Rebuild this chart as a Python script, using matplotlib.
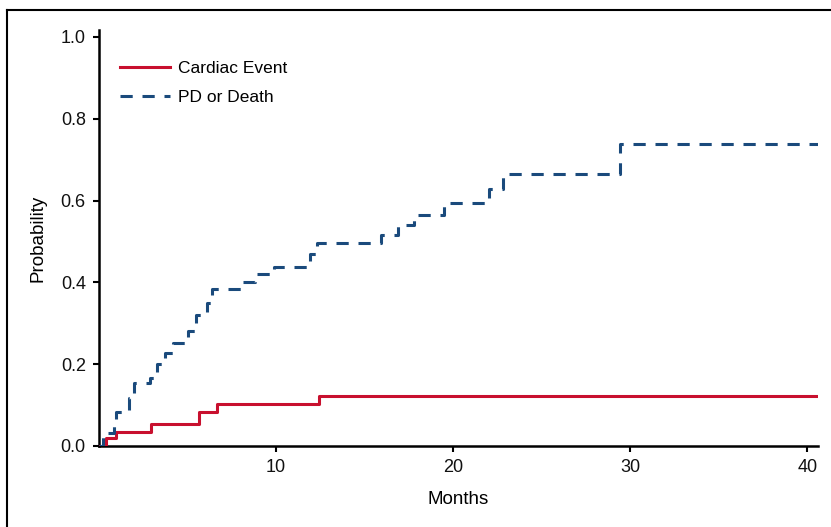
import matplotlib
matplotlib.use("Agg")
import matplotlib.pyplot as plt
from matplotlib.lines import Line2D

# cumulative incidence (months, probability)
cardiac_months = [0, 0.38, 0.96, 2.94, 5.67, 6.68, 12.43, 40.6]
cardiac_prob = [0.0, 0.020, 0.035, 0.053, 0.084, 0.102, 0.123, 0.123]

pd_months = [0, 0.2, 0.85, 0.95, 1.7, 2.0, 2.9, 3.3, 3.7, 4.2, 5.0, 5.45, 6.1, 6.4,
             8.0, 8.8, 9.9, 11.9, 12.3, 15.9, 16.9, 17.8, 19.5, 22.05, 22.8, 29.4, 40.6]
pd_prob = [0.0, 0.033, 0.05, 0.084, 0.118, 0.153, 0.166, 0.200, 0.228, 0.251, 0.282, 0.320, 0.350, 0.384,
           0.400, 0.420, 0.437, 0.470, 0.496, 0.516, 0.540, 0.565, 0.593, 0.628, 0.665, 0.738, 0.738]

x_ticks = [10, 20, 30, 40]
y_ticks = [0.0, 0.2, 0.4, 0.6, 0.8, 1.0]

RED = '#C8102E'
BLUE = '#1A4A7C'

plt.rcParams['font.family'] = ['Liberation Sans', 'DejaVu Sans']

figure = plt.figure(figsize=(8.31, 5.27), dpi=100)
axis = figure.add_axes([99 / 831, 81 / 527, 719 / 831, 416 / 527])

axis.step(cardiac_months, cardiac_prob, where='post', color=RED, linewidth=2.2,
          label='Cardiac Event', zorder=3)
axis.step(pd_months, pd_prob, where='post', color=BLUE, linewidth=2.2,
          dashes=(4, 3.2), label='PD or Death', zorder=3)

axis.set_xlim(0, 40.6)
axis.set_ylim(0, 1.017)
axis.set_xticks(x_ticks)
axis.set_yticks(y_ticks)
axis.set_yticklabels([f'{v:.1f}' for v in y_ticks])

for side in ('top', 'right'):
    axis.spines[side].set_visible(False)
for side in ('left', 'bottom'):
    axis.spines[side].set_linewidth(1.8)
    axis.spines[side].set_color('black')

axis.tick_params(direction='out', length=4.5, width=1.5, labelsize=13, pad=5,
                 colors='black', labelcolor='#111111')

axis.set_xlabel('Months', fontsize=13.5, labelpad=11)
axis.set_ylabel('Probability', fontsize=13.5, labelpad=10)

axis.legend(loc='upper left', bbox_to_anchor=(21 / 719, 0.925), frameon=False,
            fontsize=12.5, handlelength=2.9, handletextpad=0.45, labelspacing=0.8,
            borderaxespad=0, borderpad=0)

# outer frame, cut off at the right and bottom in the reference
figure.add_artist(Line2D([7 / 831, 7 / 831], [0, 1 - 10 / 527], transform=figure.transFigure,
                         color='black', linewidth=1.5))
figure.add_artist(Line2D([7 / 831, 1], [1 - 10 / 527, 1 - 10 / 527], transform=figure.transFigure,
                         color='black', linewidth=1.5))

figure.savefig('out.png', dpi=100)
